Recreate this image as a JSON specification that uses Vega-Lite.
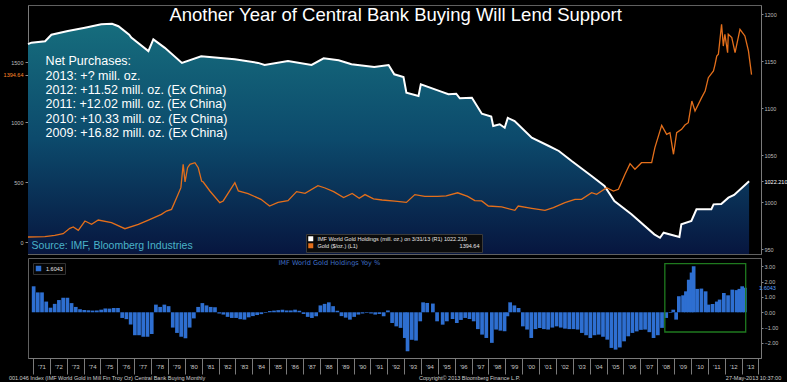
{
  "$schema": "https://vega.github.io/schema/vega-lite/v6.json",
  "background": "#000000",
  "padding": {"left": 2, "top": 4, "right": 2, "bottom": 0},
  "config": {
    "view": {"stroke": "#606060", "strokeWidth": 1},
    "axis": {"labelFont": "Liberation Sans", "labelColor": "#bdbdbd", "tickColor": "#8a8a8a", "domainColor": "#7a7a7a", "grid": false, "title": null},
    "legend": {"labelFont": "Liberation Sans"}
  },
  "resolve": {"scale": {"color": "independent"}, "legend": {"color": "independent"}},
  "datasets": {
    "hold": [
      {"d":"1971-01-01","v":1168},{"d":"1971-03-15","v":1169.5},{"d":"1972-01-01","v":1171},{"d":"1972-05-15","v":1178},
      {"d":"1973-05-01","v":1182},{"d":"1974-05-01","v":1185.5},{"d":"1975-04-15","v":1189},{"d":"1975-12-01","v":1189.7},
      {"d":"1976-04-15","v":1187},{"d":"1976-12-01","v":1178},{"d":"1977-01-15","v":1175},{"d":"1978-01-15","v":1160.6},
      {"d":"1978-05-01","v":1173},{"d":"1979-01-01","v":1164},{"d":"1980-01-01","v":1148},{"d":"1981-02-15","v":1155},
      {"d":"1983-02-01","v":1151.8},{"d":"1984-06-15","v":1148},{"d":"1984-11-01","v":1145.8},{"d":"1986-03-15","v":1150},
      {"d":"1987-08-01","v":1145.8},{"d":"1988-04-15","v":1152.9},{"d":"1989-03-01","v":1150.8},{"d":"1989-12-01","v":1146.5},
      {"d":"1991-04-01","v":1143.6},{"d":"1992-02-01","v":1145.8},{"d":"1992-06-01","v":1135.9},{"d":"1992-12-15","v":1133},
      {"d":"1993-02-15","v":1116.3},{"d":"1993-11-01","v":1112.8},{"d":"1993-12-20","v":1125.2},{"d":"1995-03-01","v":1117.4},
      {"d":"1995-08-01","v":1114.6},{"d":"1996-01-15","v":1115.2},{"d":"1996-04-01","v":1110.3},{"d":"1996-12-15","v":1111},
      {"d":"1997-07-15","v":1094},{"d":"1998-02-01","v":1091},{"d":"1998-03-15","v":1080.9},{"d":"1998-08-01","v":1082.7},
      {"d":"1998-11-15","v":1079},{"d":"1999-01-20","v":1089.5},{"d":"1999-06-15","v":1086.2},{"d":"2000-06-15","v":1068.4},
      {"d":"2001-06-15","v":1059.6},{"d":"2002-01-15","v":1054.3},{"d":"2002-10-15","v":1043.6},{"d":"2003-12-15","v":1027.7},
      {"d":"2004-09-15","v":1017},{"d":"2005-04-15","v":1001},{"d":"2006-04-15","v":986.9},{"d":"2007-08-15","v":965.6},
      {"d":"2007-12-15","v":962},{"d":"2008-03-01","v":967.3},{"d":"2009-02-01","v":962.8},{"d":"2009-03-15","v":976.3},
      {"d":"2009-10-15","v":979.8},{"d":"2010-02-01","v":992.2},{"d":"2010-12-15","v":992.2},{"d":"2011-02-01","v":997.5},
      {"d":"2011-07-15","v":998},{"d":"2011-12-15","v":1004.6},{"d":"2012-04-15","v":1007.6},{"d":"2013-03-01","v":1022.21}
    ],
    "gold": [
      {"d":"1971-01-01","g":41.7},{"d":"1971-12-28","g":44},{"d":"1972-07-25","g":55.6},{"d":"1973-01-20","g":69},
      {"d":"1973-06-12","g":114},{"d":"1973-08-25","g":125},{"d":"1973-12-10","g":97},{"d":"1974-05-01","g":175},
      {"d":"1974-09-20","g":147},{"d":"1975-02-10","g":183},{"d":"1975-11-20","g":161},{"d":"1976-09-01","g":111},
      {"d":"1977-06-15","g":147},{"d":"1978-01-15","g":183},{"d":"1978-10-20","g":230},{"d":"1979-02-05","g":258},
      {"d":"1979-05-25","g":272},{"d":"1979-09-10","g":369},{"d":"1979-12-10","g":453},{"d":"1980-01-28","g":647},
      {"d":"1980-03-08","g":500},{"d":"1980-05-01","g":619},{"d":"1980-06-20","g":647},{"d":"1980-10-05","g":661},
      {"d":"1980-12-15","g":619},{"d":"1981-02-25","g":508},{"d":"1981-04-01","g":500},{"d":"1981-08-20","g":425},
      {"d":"1982-03-20","g":328},{"d":"1982-06-01","g":342},{"d":"1983-02-05","g":494},{"d":"1983-04-20","g":425},
      {"d":"1983-11-15","g":403},{"d":"1984-08-15","g":356},{"d":"1985-02-15","g":300},{"d":"1985-08-15","g":330},
      {"d":"1986-03-15","g":345},{"d":"1986-09-15","g":420},{"d":"1987-03-15","g":405},{"d":"1987-12-15","g":470},
      {"d":"1988-05-15","g":450},{"d":"1988-11-15","g":420},{"d":"1989-06-15","g":370},{"d":"1989-12-15","g":405},
      {"d":"1990-05-15","g":365},{"d":"1990-09-15","g":395},{"d":"1991-03-15","g":360},{"d":"1991-09-15","g":350},
      {"d":"1992-06-15","g":340},{"d":"1993-02-15","g":330},{"d":"1993-08-15","g":395},{"d":"1994-03-15","g":380},
      {"d":"1994-12-15","g":380},{"d":"1995-06-15","g":385},{"d":"1996-02-15","g":410},{"d":"1996-09-15","g":380},
      {"d":"1997-02-15","g":345},{"d":"1997-07-12","g":342},{"d":"1997-12-01","g":300},{"d":"1998-09-12","g":292},
      {"d":"1999-06-20","g":264},{"d":"1999-09-01","g":300},{"d":"2000-06-15","g":281},{"d":"2001-03-25","g":264},
      {"d":"2001-09-20","g":286},{"d":"2002-05-25","g":328},{"d":"2002-12-25","g":356},{"d":"2003-05-15","g":356},
      {"d":"2003-12-15","g":411},{"d":"2004-04-01","g":397},{"d":"2004-11-01","g":453},{"d":"2005-03-25","g":425},
      {"d":"2005-07-10","g":439},{"d":"2005-11-28","g":564},{"d":"2006-03-15","g":653},{"d":"2006-06-28","g":606},
      {"d":"2006-11-15","g":661},{"d":"2007-06-20","g":661},{"d":"2007-08-28","g":786},{"d":"2008-01-20","g":972},
      {"d":"2008-05-05","g":897},{"d":"2008-07-15","g":911},{"d":"2008-09-28","g":731},{"d":"2008-12-05","g":911},
      {"d":"2009-03-20","g":939},{"d":"2009-05-30","g":975},{"d":"2009-08-10","g":994},{"d":"2009-10-25","g":1175},
      {"d":"2010-01-01","g":1092},{"d":"2010-05-22","g":1203},{"d":"2010-08-05","g":1258},{"d":"2010-10-12","g":1369},
      {"d":"2011-01-30","g":1425},{"d":"2011-03-05","g":1481},{"d":"2011-04-10","g":1550},{"d":"2011-05-15","g":1564},
      {"d":"2011-07-22","g":1814},{"d":"2011-08-28","g":1633},{"d":"2011-10-01","g":1731},{"d":"2011-11-28","g":1578},
      {"d":"2011-12-12","g":1731},{"d":"2012-02-25","g":1703},{"d":"2012-05-05","g":1578},{"d":"2012-08-18","g":1772},
      {"d":"2012-12-01","g":1717},{"d":"2013-02-15","g":1592},{"d":"2013-04-22","g":1394.64}
    ],
    "yoy": [
      {"d":"1971-01-15","p":1.70},{"d":"1971-04-15","p":1.30},{"d":"1971-07-15","p":1.30},{"d":"1971-10-15","p":0.70},
      {"d":"1972-01-15","p":0.30},{"d":"1972-04-15","p":0.55},{"d":"1972-07-15","p":0.80},{"d":"1972-10-15","p":0.95},
      {"d":"1973-01-15","p":0.95},{"d":"1973-04-15","p":0.60},{"d":"1973-07-15","p":0.35},{"d":"1973-10-15","p":0.20},
      {"d":"1974-01-15","p":0.15},{"d":"1974-04-15","p":0.13},{"d":"1974-07-15","p":0.11},{"d":"1974-10-15","p":0.12},
      {"d":"1975-01-15","p":0.17},{"d":"1975-04-15","p":0.25},{"d":"1975-07-15","p":0.24},{"d":"1975-10-15","p":0.28},
      {"d":"1976-01-15","p":0.28},{"d":"1976-04-15","p":-0.37},{"d":"1976-07-15","p":-0.45},{"d":"1976-10-15","p":-0.80},
      {"d":"1977-01-15","p":-1.50},{"d":"1977-04-15","p":-1.50},{"d":"1977-07-15","p":-1.60},{"d":"1977-10-15","p":-1.60},
      {"d":"1978-01-15","p":-1.42},{"d":"1978-04-15","p":0.50},{"d":"1978-07-15","p":0.35},{"d":"1978-10-15","p":0.50},
      {"d":"1979-01-15","p":0.40},{"d":"1979-04-15","p":-1.00},{"d":"1979-07-15","p":-1.35},{"d":"1979-10-15","p":-1.60},
      {"d":"1980-01-15","p":-1.70},{"d":"1980-04-15","p":-1.00},{"d":"1980-07-15","p":-0.40},{"d":"1980-10-15","p":0.35},
      {"d":"1981-01-15","p":0.60},{"d":"1981-04-15","p":0.45},{"d":"1981-07-15","p":0.35},{"d":"1981-10-15","p":0.33},
      {"d":"1982-01-15","p":-0.08},{"d":"1982-04-15","p":-0.15},{"d":"1982-07-15","p":-0.30},{"d":"1982-10-15","p":-0.37},
      {"d":"1983-01-15","p":-0.37},{"d":"1983-04-15","p":-0.45},{"d":"1983-07-15","p":-0.48},{"d":"1983-10-15","p":-0.33},
      {"d":"1984-01-15","p":-0.25},{"d":"1984-04-15","p":-0.18},{"d":"1984-07-15","p":-0.12},{"d":"1984-10-15","p":-0.04},
      {"d":"1985-01-15","p":0.08},{"d":"1985-04-15","p":0.11},{"d":"1985-07-15","p":0.14},{"d":"1985-10-15","p":0.17},
      {"d":"1986-01-15","p":0.12},{"d":"1986-04-15","p":0.12},{"d":"1986-07-15","p":0.17},{"d":"1986-10-15","p":0.10},
      {"d":"1987-01-15","p":-0.11},{"d":"1987-04-15","p":-0.30},{"d":"1987-07-15","p":-0.37},{"d":"1987-10-15","p":-0.26},
      {"d":"1988-01-15","p":0.45},{"d":"1988-04-15","p":0.55},{"d":"1988-07-15","p":0.65},{"d":"1988-10-15","p":0.40},
      {"d":"1989-01-15","p":0.10},{"d":"1989-04-15","p":-0.25},{"d":"1989-07-15","p":-0.35},{"d":"1989-10-15","p":-0.48},
      {"d":"1990-01-15","p":-0.30},{"d":"1990-04-15","p":-0.15},{"d":"1990-07-15","p":-0.08},{"d":"1990-10-15","p":-0.04},
      {"d":"1991-01-15","p":-0.08},{"d":"1991-04-15","p":-0.15},{"d":"1991-07-15","p":-0.11},{"d":"1991-10-15","p":-0.26},
      {"d":"1992-01-15","p":0.12},{"d":"1992-04-15","p":-0.70},{"d":"1992-07-15","p":-0.92},{"d":"1992-10-15","p":-1.02},
      {"d":"1993-01-15","p":-1.68},{"d":"1993-03-15","p":-2.55},{"d":"1993-06-15","p":-1.80},{"d":"1993-09-15","p":-1.85},
      {"d":"1993-12-15","p":-0.59},{"d":"1994-02-15","p":0.65},{"d":"1994-05-15","p":0.61},{"d":"1994-09-15","p":0.57},
      {"d":"1994-12-15","p":-0.59},{"d":"1995-04-15","p":-0.81},{"d":"1995-07-15","p":-0.59},{"d":"1995-11-15","p":-0.44},
      {"d":"1996-02-15","p":-0.70},{"d":"1996-05-15","p":-0.50},{"d":"1996-08-15","p":-0.37},{"d":"1996-11-15","p":-0.44},
      {"d":"1997-02-15","p":-0.59},{"d":"1997-05-15","p":-1.10},{"d":"1997-08-15","p":-1.46},{"d":"1997-11-15","p":-1.68},
      {"d":"1998-03-15","p":-2.00},{"d":"1998-06-15","p":-1.13},{"d":"1998-09-15","p":-1.20},{"d":"1998-12-15","p":-1.24},
      {"d":"1999-02-15","p":-0.26},{"d":"1999-04-15","p":0.65},{"d":"1999-07-15","p":0.45},{"d":"1999-10-15","p":0.28},
      {"d":"2000-01-15","p":-0.92},{"d":"2000-04-15","p":-1.13},{"d":"2000-07-15","p":-1.68},{"d":"2000-10-15","p":-1.10},
      {"d":"2001-01-15","p":-1.02},{"d":"2001-04-15","p":-1.10},{"d":"2001-07-15","p":-1.13},{"d":"2001-10-15","p":-1.00},
      {"d":"2002-01-15","p":-0.92},{"d":"2002-04-15","p":-1.00},{"d":"2002-07-15","p":-1.07},{"d":"2002-10-15","p":-1.10},
      {"d":"2003-01-15","p":-1.10},{"d":"2003-04-15","p":-1.13},{"d":"2003-07-15","p":-1.35},{"d":"2003-10-15","p":-1.50},
      {"d":"2004-01-15","p":-1.68},{"d":"2004-04-15","p":-1.50},{"d":"2004-07-15","p":-1.46},{"d":"2004-10-15","p":-1.60},
      {"d":"2005-01-15","p":-1.79},{"d":"2005-04-15","p":-2.33},{"d":"2005-07-15","p":-2.44},{"d":"2005-10-15","p":-2.30},
      {"d":"2006-01-15","p":-1.90},{"d":"2006-04-15","p":-1.57},{"d":"2006-07-15","p":-1.35},{"d":"2006-10-15","p":-1.25},
      {"d":"2007-01-15","p":-1.15},{"d":"2007-04-15","p":-1.13},{"d":"2007-07-15","p":-1.30},{"d":"2007-10-15","p":-1.68},
      {"d":"2008-01-15","p":-1.50},{"d":"2008-04-15","p":-1.02},{"d":"2008-07-15","p":-0.37},{"d":"2008-10-15","p":-0.04},
      {"d":"2008-12-15","p":0.17},{"d":"2009-02-15","p":-0.48},{"d":"2009-04-15","p":1.05},{"d":"2009-07-15","p":1.11},
      {"d":"2009-09-15","p":1.37},{"d":"2009-11-15","p":2.13},{"d":"2010-01-15","p":2.60},{"d":"2010-03-01","p":3.01},
      {"d":"2010-05-15","p":1.53},{"d":"2010-08-15","p":1.55},{"d":"2010-11-15","p":1.37},{"d":"2011-01-15","p":0.50},
      {"d":"2011-04-15","p":0.54},{"d":"2011-07-15","p":0.70},{"d":"2011-09-15","p":0.83},{"d":"2011-12-15","p":1.26},
      {"d":"2012-03-15","p":1.11},{"d":"2012-06-15","p":1.48},{"d":"2012-09-15","p":1.45},{"d":"2012-11-15","p":1.53},
      {"d":"2013-01-15","p":1.70},{"d":"2013-03-15","p":1.6043}
    ]
  },
  "spacing": 2,
  "vconcat": [
    {
      "width": 733,
      "height": 249,
      "layer": [
        {
          "layer": [
            {
              "data": {"name": "hold"},
              "mark": {"type": "area", "interpolate": "linear", "color": {"gradient": "linear", "x1": 0, "y1": 0, "x2": 0, "y2": 1, "stops": [{"offset": 0, "color": "#166d7d"}, {"offset": 0.5, "color": "#0c4a6c"}, {"offset": 1, "color": "#07163f"}]}},
              "encoding": {
                "x": {"field": "d", "type": "temporal", "scale": {"domain": ["1971-01-01", "2013-11-10"], "nice": false}, "axis": null},
                "y": {"field": "v", "type": "quantitative", "scale": {"domain": [944.7, 1209.6], "zero": false, "nice": false},
                  "axis": {"orient": "right", "values": [950, 1000, 1050, 1100, 1150, 1200, 1022.21], "labelExpr": "datum.value == 1022.21 ? '1022.210' : format(datum.value, 'd')", "labelFontSize": 5.5, "tickSize": 2, "labelPadding": 1, "labelOverlap": false,
                    "labelColor": {"condition": {"test": "datum.value == 1022.21", "value": "#ffffff"}, "value": "#bdbdbd"}}},
                "y2": {"datum": 944.7}
              }
            },
            {
              "data": {"name": "hold"},
              "mark": {"type": "line", "strokeWidth": 2},
              "encoding": {
                "x": {"field": "d", "type": "temporal"},
                "y": {"field": "v", "type": "quantitative"},
                "color": {"datum": "IMF World Gold Holdings (mill. oz.) on 3/31/13 (R1)  1022.210",
                  "scale": {"domain": ["IMF World Gold Holdings (mill. oz.) on 3/31/13 (R1)  1022.210", "Gold ($/oz.) (L1) \u2003\u2003\u2003\u2003\u2003\u2003\u2003\u2003\u2003\u2003\u2003\u2003\u2003\u2003\u2003\u2003\u2003\u2003 1394.64"], "range": ["#ffffff", "#e46f1b"]},
                  "legend": {"orient": "none", "legendX": 278, "legendY": 229, "direction": "vertical", "title": null, "symbolType": "square", "symbolSize": 25, "symbolStrokeWidth": 0,
                    "symbolFillColor": {"expr": "indexof(datum.value, 'Gold') == 0 ? '#e46f1b' : '#ffffff'"},
                    "labelFontSize": 5.5, "labelColor": "#e6e6e6", "labelLimit": 320, "fillColor": "#0b0b0b", "strokeColor": "#3a3a3a", "padding": 2, "rowPadding": 0}}
              }
            }
          ]
        },
        {
          "layer": [
            {
              "data": {"name": "gold"},
              "mark": {"type": "line", "strokeWidth": 1.3, "color": "#e46f1b"},
              "encoding": {
                "x": {"field": "d", "type": "temporal"},
                "y": {"field": "g", "type": "quantitative", "scale": {"domain": [-100, 1975], "zero": false, "nice": false},
                  "axis": {"orient": "left", "values": [0, 500, 1000, 1500, 1394.64], "labelExpr": "datum.value == 1394.64 ? '1394.64' : format(datum.value, 'd')", "labelFontSize": 5.5, "tickSize": 3, "labelPadding": 2, "labelOverlap": false,
                    "labelColor": {"condition": {"test": "datum.value == 1394.64", "value": "#ff8a2a"}, "value": "#bdbdbd"}}},
                "color": {"datum": "Gold ($/oz.) (L1) \u2003\u2003\u2003\u2003\u2003\u2003\u2003\u2003\u2003\u2003\u2003\u2003\u2003\u2003\u2003\u2003\u2003\u2003 1394.64"}
              }
            },
            {
              "data": {"values": [{}]},
              "mark": {"type": "text", "text": "Another Year of Central Bank Buying Will Lend Support", "font": "Liberation Sans", "fontSize": 18.5, "color": "#ffffff", "align": "center", "baseline": "middle"},
              "encoding": {"x": {"datum": {"year": 1992, "month": 7, "date": 1}, "type": "temporal"}, "y": {"datum": 1892, "type": "quantitative"}}
            },
            {
              "data": {"values": [{}]},
              "mark": {"type": "text", "text": ["Net Purchases:", "2013: +? mill. oz.", "2012: +11.52 mill. oz. (Ex China)", "2011: +12.02 mill. oz. (Ex China)", "2010: +10.33 mill. oz. (Ex China)", "2009: +16.82 mill. oz. (Ex China)"], "lineHeight": 14.3, "font": "Liberation Sans", "fontSize": 12.5, "color": "#ffffff", "align": "left", "baseline": "top"},
              "encoding": {"x": {"datum": {"year": 1972, "month": 1, "date": 12}, "type": "temporal"}, "y": {"datum": 1555, "type": "quantitative"}}
            },
            {
              "data": {"values": [{}]},
              "mark": {"type": "text", "text": "Source: IMF, Bloomberg Industries", "font": "Liberation Sans", "fontSize": 10.5, "color": "#4ab3c9", "align": "left", "baseline": "middle"},
              "encoding": {"x": {"datum": {"year": 1971, "month": 3, "date": 18}, "type": "temporal"}, "y": {"datum": -33, "type": "quantitative"}}
            }
          ]
        }
      ],
      "resolve": {"scale": {"y": "independent"}}
    },
    {
      "width": 733,
      "height": 100,
      "layer": [
        {
          "data": {"name": "yoy"},
          "mark": {"type": "bar", "size": 3.7},
          "encoding": {
            "x": {"field": "d", "type": "temporal", "scale": {"domain": ["1971-01-01", "2013-11-10"], "nice": false},
              "axis": {"tickCount": {"interval": "year", "step": 1}, "labelExpr": "year(datum.value) > 2013 ? '' : timeFormat(datum.value, \"'%y\")", "labelOffset": 8.5, "labelPadding": -11, "tickSize": 16, "labelFontSize": 6, "labelColor": "#c8c8c8", "tickColor": "#7a7a7a", "labelFlush": false, "labelOverlap": false, "labelBound": false}},
            "y": {"field": "p", "type": "quantitative", "scale": {"domain": [-2.99, 3.55], "zero": false, "nice": false},
              "axis": {"orient": "right", "tickCount": 6, "format": ".2f", "labelFontSize": 5.5, "tickSize": 2, "labelPadding": 1, "labelOverlap": false}},
            "y2": {"datum": 0},
            "color": {"datum": "1.6043", "scale": {"domain": ["1.6043"], "range": ["#2e6fd1"]},
              "legend": {"orient": "top-left", "offset": 5, "title": null, "symbolType": "square", "symbolSize": 30, "labelFontSize": 5.5, "labelColor": "#e6e6e6", "fillColor": "#050505", "strokeColor": "#333333", "padding": 2}}
          }
        },
        {
          "data": {"values": [{}]},
          "mark": {"type": "rect", "fill": "transparent", "stroke": "#1f7a1f", "strokeWidth": 1.3},
          "encoding": {
            "x": {"datum": {"year": 2008, "month": 6, "date": 15}, "type": "temporal"},
            "x2": {"datum": {"year": 2013, "month": 4, "date": 1}},
            "y": {"datum": 3.18, "type": "quantitative"},
            "y2": {"datum": -1.29}
          }
        },
        {
          "data": {"values": [{}]},
          "mark": {"type": "text", "text": "1.6043", "font": "Liberation Sans", "fontSize": 5.5, "color": "#5aa0ff", "align": "left", "baseline": "middle"},
          "encoding": {"x": {"datum": {"year": 2014, "month": 1, "date": 15}, "type": "temporal"}, "y": {"datum": 1.6043, "type": "quantitative"}}
        },
        {
          "data": {"values": [{}]},
          "mark": {"type": "text", "text": "IMF World Gold Holdings Yoy %", "font": "DejaVu Sans", "fontSize": 6.6, "color": "#3f6fc6", "align": "center", "baseline": "middle"},
          "encoding": {"x": {"datum": {"year": 1988, "month": 7, "date": 27}, "type": "temporal"}, "y": {"datum": 3.22, "type": "quantitative"}}
        },
        {
          "data": {"values": [{}]},
          "mark": {"type": "text", "text": "001.046 Index (IMF World Gold in Mill Fin Troy Oz) Central Bank Buying  Monthly", "font": "Liberation Sans", "fontSize": 5.5, "color": "#d0d0d0", "align": "left", "baseline": "middle"},
          "encoding": {"x": {"datum": {"year": 1969, "month": 7, "date": 28}, "type": "temporal"}, "y": {"datum": -4.29, "type": "quantitative"}}
        },
        {
          "data": {"values": [{}]},
          "mark": {"type": "text", "text": "Copyright\u00a9 2013 Bloomberg Finance L.P.", "font": "Liberation Sans", "fontSize": 5.5, "color": "#d0d0d0", "align": "center", "baseline": "middle"},
          "encoding": {"x": {"datum": {"year": 1996, "month": 11, "date": 17}, "type": "temporal"}, "y": {"datum": -4.29, "type": "quantitative"}}
        },
        {
          "data": {"values": [{}]},
          "mark": {"type": "text", "text": "27-May-2013 10:37:00", "font": "Liberation Sans", "fontSize": 5.5, "color": "#d0d0d0", "align": "right", "baseline": "middle"},
          "encoding": {"x": {"datum": {"year": 2015, "month": 5, "date": 10}, "type": "temporal"}, "y": {"datum": -4.29, "type": "quantitative"}}
        }
      ]
    }
  ]
}
